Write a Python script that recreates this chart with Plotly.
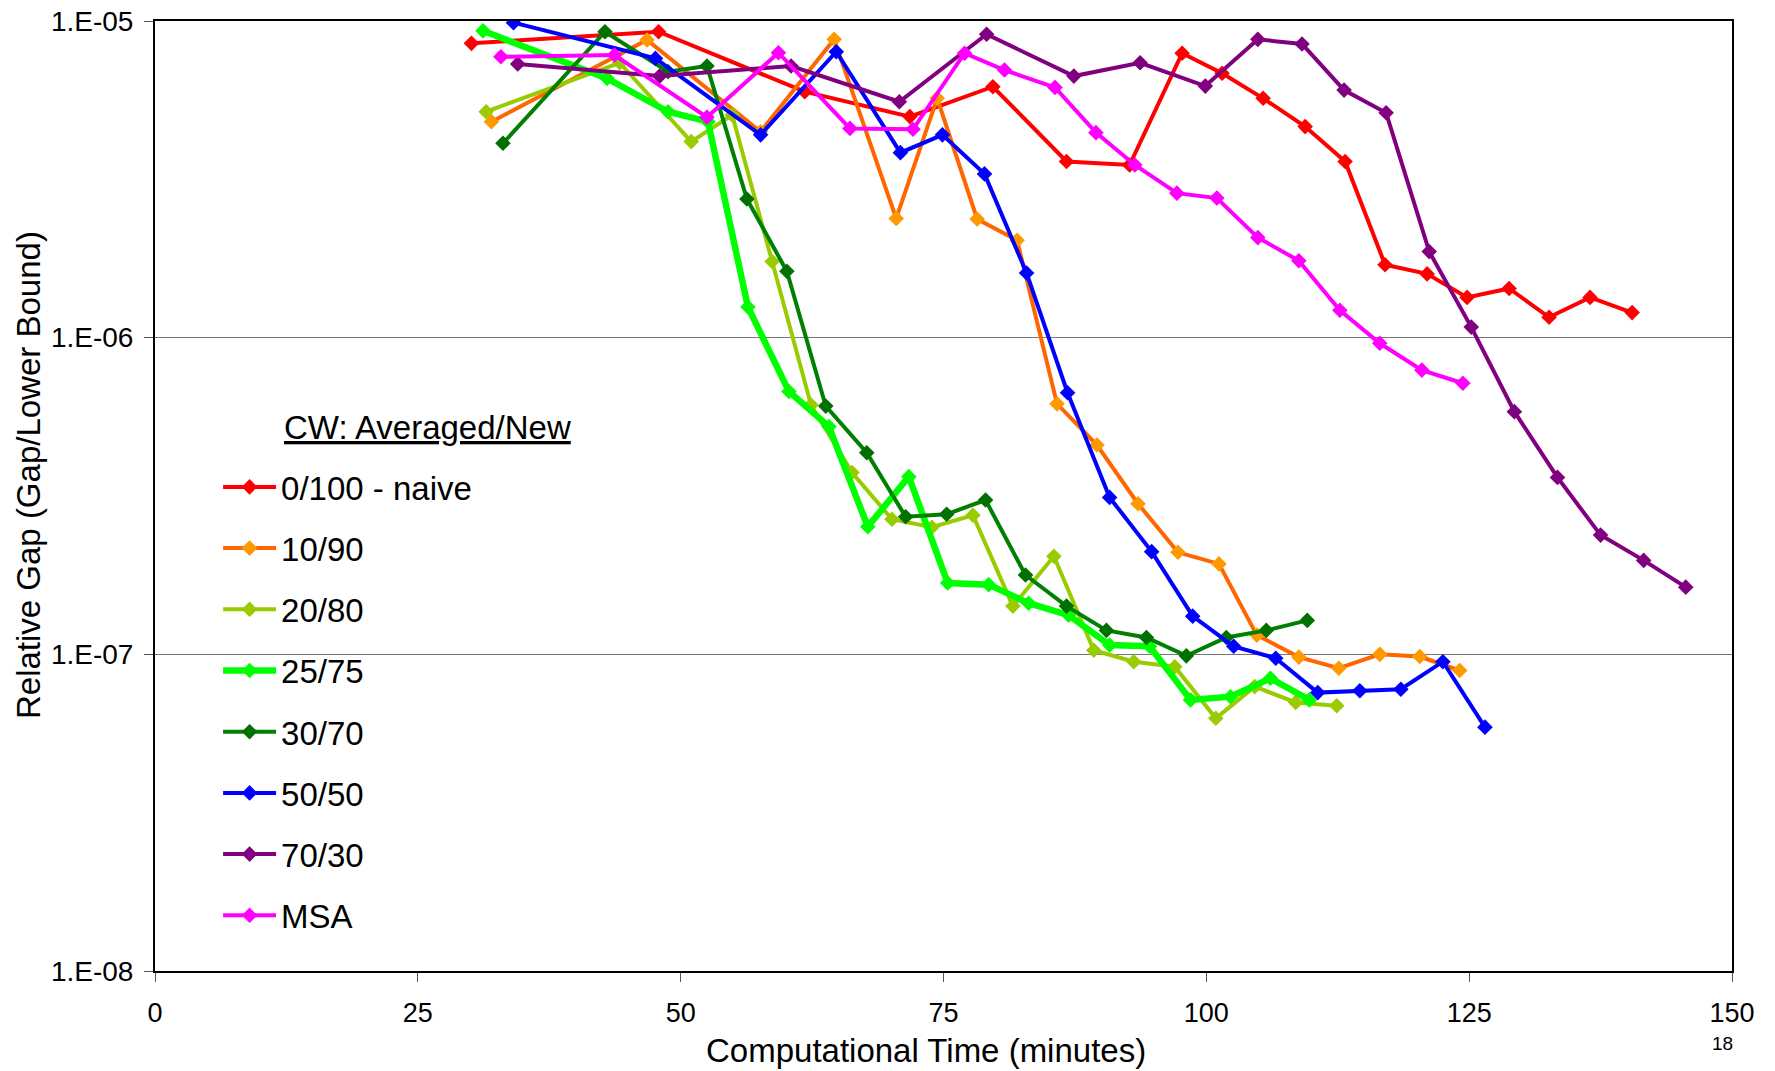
import plotly.graph_objects as go

# ---- data ----
series_names = ["0/100 - naive", "10/90", "20/80", "25/75", "30/70", "50/50", "70/30", "MSA"]

x_naive = [30.1, 47.9, 61.8, 71.8, 79.7, 86.7, 92.7, 97.7, 101.5, 105.4, 109.4, 113.2, 117.0, 121.0, 124.8, 128.8, 132.6, 136.5, 140.5]
y_naive = [8.5e-6, 9.25e-6, 5.98e-6, 4.99e-6, 6.2e-6, 3.6e-6, 3.51e-6, 7.91e-6, 6.84e-6, 5.7e-6, 4.64e-6, 3.6e-6, 1.70e-6, 1.59e-6, 1.34e-6, 1.43e-6, 1.16e-6, 1.34e-6, 1.2e-6]

x_10_90 = [32.0, 46.8, 57.6, 64.6, 70.5, 74.4, 78.2, 82.0, 85.8, 89.6, 93.5, 97.3, 101.2, 104.8, 108.8, 112.6, 116.5, 120.3, 124.1]
y_10_90 = [4.81e-6, 8.71e-6, 4.47e-6, 8.75e-6, 2.38e-6, 5.7e-6, 2.37e-6, 2.03e-6, 6.18e-7, 4.58e-7, 2.99e-7, 2.10e-7, 1.93e-7, 1.15e-7, 9.8e-8, 9.04e-8, 1.0e-7, 9.84e-8, 8.89e-8]

x_20_80 = [31.5, 44.2, 51.0, 54.9, 58.7, 62.4, 66.3, 70.1, 73.9, 77.8, 81.6, 85.5, 89.3, 93.1, 97.0, 100.9, 104.6, 108.5, 112.4]
y_20_80 = [5.17e-6, 7.38e-6, 4.16e-6, 5.05e-6, 1.74e-6, 6.13e-7, 3.75e-7, 2.67e-7, 2.52e-7, 2.75e-7, 1.42e-7, 2.04e-7, 1.03e-7, 9.48e-8, 9.14e-8, 6.28e-8, 7.91e-8, 7.05e-8, 6.88e-8]

x_25_75 = [31.2, 43.0, 48.8, 52.6, 56.4, 60.3, 64.1, 67.8, 71.7, 75.4, 79.3, 83.1, 86.9, 90.8, 94.6, 98.5, 102.3, 106.1, 109.8]
y_25_75 = [9.31e-6, 6.59e-6, 5.17e-6, 4.81e-6, 1.25e-6, 6.76e-7, 5.24e-7, 2.53e-7, 3.64e-7, 1.68e-7, 1.66e-7, 1.45e-7, 1.33e-7, 1.07e-7, 1.06e-7, 7.18e-8, 7.35e-8, 8.4e-8, 7.18e-8]

x_30_70 = [33.1, 42.8, 48.8, 52.5, 56.3, 60.1, 63.8, 67.7, 71.4, 75.3, 79.0, 82.8, 86.7, 90.5, 94.3, 98.1, 101.9, 105.7, 109.6]
y_30_70 = [4.11e-6, 9.25e-6, 6.92e-6, 7.21e-6, 2.74e-6, 1.62e-6, 6.08e-7, 4.33e-7, 2.72e-7, 2.77e-7, 3.07e-7, 1.78e-7, 1.42e-7, 1.19e-7, 1.13e-7, 9.89e-8, 1.13e-7, 1.19e-7, 1.28e-7]

x_50_50 = [34.1, 47.6, 57.6, 64.8, 70.9, 74.9, 78.9, 82.9, 86.8, 90.8, 94.8, 98.7, 102.6, 106.6, 110.6, 114.6, 118.5, 122.5, 126.5]
y_50_50 = [9.88e-6, 7.62e-6, 4.37e-6, 8.0e-6, 3.84e-6, 4.37e-6, 3.29e-6, 1.60e-6, 6.70e-7, 3.13e-7, 2.11e-7, 1.32e-7, 1.06e-7, 9.72e-8, 7.57e-8, 7.67e-8, 7.76e-8, 9.48e-8, 5.89e-8]

x_70_30 = [34.5, 48.0, 60.5, 70.8, 79.1, 87.4, 93.7, 99.9, 104.9, 109.1, 113.1, 117.1, 121.2, 125.2, 129.3, 133.4, 137.5, 141.6, 145.6]
y_70_30 = [7.32e-6, 6.7e-6, 7.21e-6, 5.56e-6, 9.08e-6, 6.7e-6, 7.38e-6, 6.23e-6, 8.75e-6, 8.46e-6, 6.05e-6, 5.13e-6, 1.87e-6, 1.08e-6, 5.84e-7, 3.62e-7, 2.38e-7, 1.98e-7, 1.63e-7]

x_msa = [32.9, 43.7, 52.5, 59.3, 66.1, 72.1, 77.0, 80.8, 85.6, 89.5, 93.2, 97.2, 101.0, 104.9, 108.8, 112.7, 116.5, 120.5, 124.4]
y_msa = [7.71e-6, 7.81e-6, 4.97e-6, 7.94e-6, 4.58e-6, 4.55e-6, 7.91e-6, 7.0e-6, 6.17e-6, 4.44e-6, 3.51e-6, 2.86e-6, 2.76e-6, 2.07e-6, 1.75e-6, 1.22e-6, 9.6e-7, 7.9e-7, 7.18e-7]

x_ticks = [0, 25, 50, 75, 100, 125, 150]
y_tickvals = [1e-8, 1e-7, 1e-6, 1e-5]
y_ticktext = ["1.E-08", "1.E-07", "1.E-06", "1.E-05"]

# ---- styles ----
xs = [x_naive, x_10_90, x_20_80, x_25_75, x_30_70, x_50_50, x_70_30, x_msa]
ys = [y_naive, y_10_90, y_20_80, y_25_75, y_30_70, y_50_50, y_70_30, y_msa]
line_colors = ["#FF0000", "#FF6600", "#99CC00", "#00FF00", "#008000", "#0000FF", "#800080", "#FF00FF"]
marker_colors = ["#FF0000", "#FF9900", "#99CC00", "#00FF00", "#007000", "#0000FF", "#800080", "#FF00FF"]
line_widths = [4, 4, 4, 6.5, 4, 4, 4, 4]

FONT = "Liberation Sans, Arial, sans-serif"

W, H = 1775, 1071
L, R, T, B = 155, 43, 21, 100

fig = go.Figure()
for i, name in enumerate(series_names):
    fig.add_trace(go.Scatter(
        x=xs[i], y=ys[i], name=name, mode="lines+markers",
        legendgroup=name,
        line=dict(color=line_colors[i], width=line_widths[i]),
        marker=dict(symbol="diamond", size=12, color=marker_colors[i],
                    line=dict(width=0)),
    ))

fig.update_layout(
    width=W, height=H,
    margin=dict(l=L, r=R, t=T, b=B, autoexpand=False),
    paper_bgcolor="white", plot_bgcolor="white",
    font=dict(family=FONT, color="black"),
    showlegend=True,
    legend=dict(
        x=0.040, y=0.539, xanchor="left", yanchor="top",
        bgcolor="rgba(255,255,255,0)", borderwidth=0,
        font=dict(size=33, family=FONT),
        itemwidth=53, tracegroupgap=15.3, traceorder="grouped",
    ),
    xaxis=dict(
        range=[0, 150], tickvals=x_ticks, ticks="outside", ticklen=9,
        tickcolor="#555", tickwidth=1,
        showline=True, linecolor="black", linewidth=2, mirror=True,
        showgrid=False, zeroline=False,
        tickfont=dict(size=27, family=FONT), ticklabelstandoff=8,
        automargin=False,
    ),
    yaxis=dict(
        type="log", range=[-8, -5], tickvals=y_tickvals, ticktext=y_ticktext,
        ticks="outside", ticklen=9, tickcolor="#555", tickwidth=1,
        showline=True, linecolor="black", linewidth=2, mirror=True,
        showgrid=True, gridcolor="#777", gridwidth=1.2, zeroline=False,
        tickfont=dict(size=28, family=FONT), ticklabelstandoff=5,
        ticklabeloverflow="allow",
        automargin=False,
    ),
    shapes=[dict(type="rect", xref="paper", yref="paper",
                 x0=0.002, x1=0.2936, y0=0.03, y1=0.6,
                 fillcolor="white", line=dict(width=0), layer="between")],
    annotations=[
        dict(text="<u>CW: Averaged/New</u>", xref="paper", yref="paper",
             x=0.0803, y=0.5716, xanchor="left", yanchor="middle",
             showarrow=False, font=dict(size=33, family=FONT)),
        dict(text="Computational Time (minutes)", xref="paper", yref="paper",
             x=0.4889, y=-0.0832, xanchor="center", yanchor="middle",
             showarrow=False, font=dict(size=33, family=FONT)),
        dict(text="Relative Gap (Gap/Lower Bound)", xref="paper", yref="paper",
             x=-0.0805, y=0.5221, xanchor="center", yanchor="middle", textangle=-90,
             showarrow=False, font=dict(size=33, family=FONT)),
        dict(text="18", xref="paper", yref="paper",
             x=(1722 - 155) / 1577, y=(971 - 1043) / 950, xanchor="center", yanchor="middle",
             showarrow=False, font=dict(size=19, family=FONT)),
    ],
)

fig.write_html("out.html",
               config={"displayModeBar": False},
               post_script="document.body.style.margin='0';document.body.style.overflow='hidden';")
